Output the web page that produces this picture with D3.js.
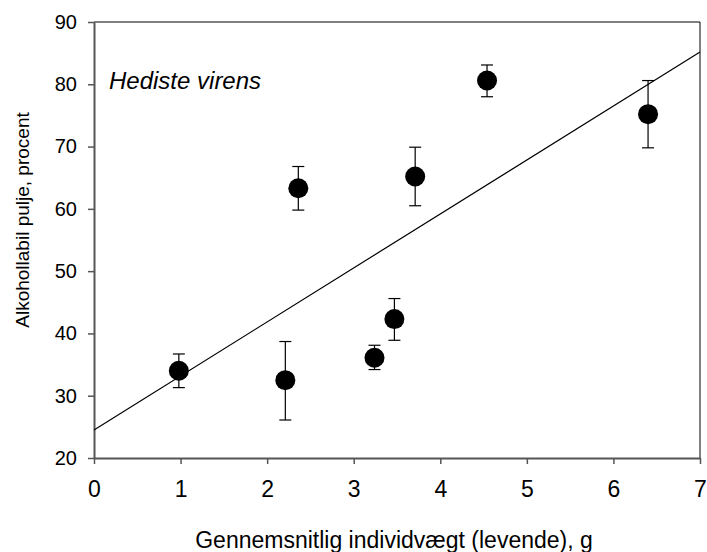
<!DOCTYPE html>
<html>
<head>
<meta charset="utf-8">
<script src="https://cdn.jsdelivr.net/npm/d3@7"></script>
<style>
  body { margin: 0; background: #fff; }
  svg { display: block; font-family: "Liberation Sans", Arial, sans-serif; }
</style>
</head>
<body>
<svg id="canvas" width="707" height="552"></svg>
<script>
// weight (g), pool (%), error bar low/high
const weights = [0.98, 2.21, 3.24, 3.47, 2.36, 3.71, 4.54, 6.40];
const pools   = [34.0, 32.5, 36.1, 42.3, 63.3, 65.2, 80.6, 75.2];
const errLow  = [31.3, 26.1, 34.2, 38.9, 59.8, 60.5, 78.0, 69.8];
const errHigh = [36.7, 38.7, 38.1, 45.6, 66.8, 69.9, 83.1, 80.6];
const fitLine = [[0, 24.5], [7, 85.2]];
const xTicks = [0, 1, 2, 3, 4, 5, 6, 7];
const yTicks = [20, 30, 40, 50, 60, 70, 80, 90];

const canvas = d3.select("#canvas");
const margin = { left: 94, right: 7, top: 22, bottom: 94 };
const width = 707 - margin.left - margin.right;
const height = 552 - margin.top - margin.bottom;

const x = d3.scaleLinear().domain([0, 7]).range([0, width]);
const y = d3.scaleLinear().domain([20, 90]).range([height, 0]);

const g = canvas.append("g").attr("transform", `translate(${margin.left},${margin.top})`);

// frame top + right
g.append("line").attr("x1", 0).attr("x2", width).attr("y1", 0).attr("y2", 0)
  .attr("stroke", "#000").attr("stroke-width", 1);
g.append("line").attr("x1", width).attr("x2", width).attr("y1", 0).attr("y2", height)
  .attr("stroke", "#000").attr("stroke-width", 1);

const xAxis = g.append("g")
  .attr("transform", `translate(0,${height})`)
  .call(d3.axisBottom(x).tickValues(xTicks).tickFormat(d3.format("d"))
    .tickSize(6).tickPadding(17).tickSizeOuter(0));
xAxis.selectAll("text").attr("font-size", 23).attr("fill", "#000");

const yAxis = g.append("g")
  .call(d3.axisLeft(y).tickValues(yTicks).tickFormat(d3.format("d"))
    .tickSize(6).tickPadding(11).tickSizeOuter(0));
yAxis.selectAll("text").attr("font-size", 20).attr("fill", "#000");

[xAxis, yAxis].forEach(a => {
  a.select(".domain").attr("stroke", "#555").attr("stroke-width", 2);
  a.selectAll(".tick line").attr("stroke", "#555").attr("stroke-width", 1.5);
});

// regression line
g.append("line")
  .attr("x1", x(fitLine[0][0])).attr("y1", y(fitLine[0][1]))
  .attr("x2", x(fitLine[1][0])).attr("y2", y(fitLine[1][1]))
  .attr("stroke", "#000").attr("stroke-width", 1.2);

const data = weights.map((w, i) => ({ w, p: pools[i], lo: errLow[i], hi: errHigh[i] }));

const bars = g.selectAll(".err").data(data).enter().append("g").attr("class", "err")
  .attr("stroke", "#000").attr("stroke-width", 1.2);
bars.append("line").attr("x1", d => x(d.w)).attr("x2", d => x(d.w))
  .attr("y1", d => y(d.lo)).attr("y2", d => y(d.hi));
bars.append("line").attr("x1", d => x(d.w) - 6).attr("x2", d => x(d.w) + 6)
  .attr("y1", d => y(d.hi)).attr("y2", d => y(d.hi));
bars.append("line").attr("x1", d => x(d.w) - 6).attr("x2", d => x(d.w) + 6)
  .attr("y1", d => y(d.lo)).attr("y2", d => y(d.lo));

g.selectAll("circle").data(data).enter().append("circle")
  .attr("cx", d => x(d.w)).attr("cy", d => y(d.p)).attr("r", 10).attr("fill", "#000");

g.append("text").attr("x", 15).attr("y", 67)
  .attr("font-size", 24).attr("font-style", "italic").text("Hediste virens");

canvas.append("text")
  .attr("x", margin.left + width / 2 - 3).attr("y", 548)
  .attr("text-anchor", "middle").attr("font-size", 23)
  .text("Gennemsnitlig individvægt (levende), g");

canvas.append("text")
  .attr("transform", `translate(29,${margin.top + height / 2 - 20}) rotate(-90)`)
  .attr("text-anchor", "middle").attr("font-size", 19)
  .text("Alkohollabil pulje, procent");
</script>
</body>
</html>
